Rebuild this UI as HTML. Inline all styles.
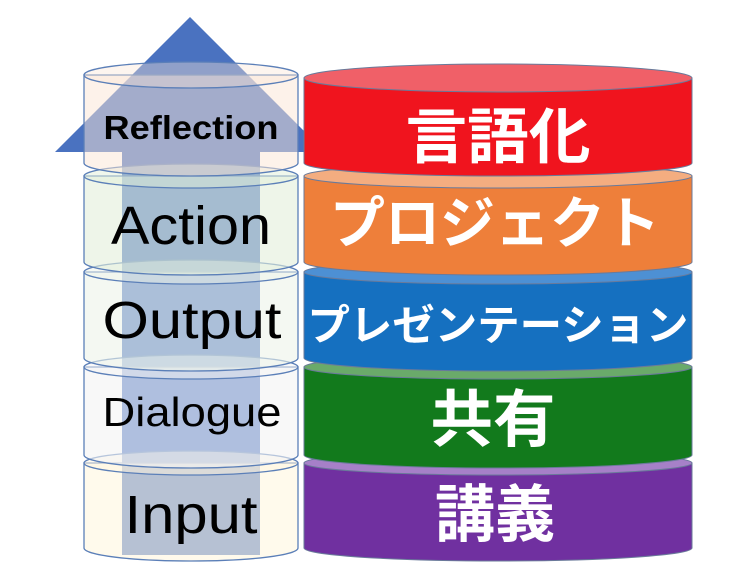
<!DOCTYPE html>
<html><head><meta charset="utf-8"><style>
html,body{margin:0;padding:0;background:#fff;width:736px;height:584px;overflow:hidden}
svg{display:block}
.l{font-family:"Liberation Sans",sans-serif;fill:#000;text-anchor:middle}
.j{font-family:"Liberation Sans","Noto Sans CJK JP",sans-serif;fill:#fff;text-anchor:middle;font-weight:bold}
</style></head><body>
<svg width="736" height="584" viewBox="0 0 736 584">
<polygon points="190,17 325,152 260,152 260,555 122,555 122,152 55,152" fill="#4a72c0"/>
<g stroke="#5b7fb8" stroke-width="1.3">
<path d="M84,463 L84,548 A107,13 0 0 0 298,548 L298,463 Z" fill="#fff6e0" fill-opacity="0.6"/>
<ellipse cx="191" cy="463" rx="107" ry="12" fill="#fff6e0" fill-opacity="0.5"/>
<path d="M84,367 L84,455 A107,13 0 0 0 298,455 L298,367 Z" fill="#f4f4f4" fill-opacity="0.6"/>
<ellipse cx="191" cy="367" rx="107" ry="12" fill="#f4f4f4" fill-opacity="0.5"/>
<path d="M84,272 L84,358 A107,13 0 0 0 298,358 L298,272 Z" fill="#edf3ea" fill-opacity="0.6"/>
<ellipse cx="191" cy="272" rx="107" ry="12" fill="#edf3ea" fill-opacity="0.5"/>
<path d="M84,176 L84,262 A107,13 0 0 0 298,262 L298,176 Z" fill="#e2efda" fill-opacity="0.6"/>
<ellipse cx="191" cy="176" rx="107" ry="12" fill="#e2efda" fill-opacity="0.5"/>
<path d="M84,75 L84,163 A107,13 0 0 0 298,163 L298,75 Z" fill="#fbe5d6" fill-opacity="0.5"/>
<ellipse cx="191" cy="75" rx="107" ry="13" fill="#fbe5d6" fill-opacity="0.4"/>
</g>
<text class="l" x="191" y="139" font-size="33" font-weight="bold" textLength="175" lengthAdjust="spacingAndGlyphs">Reflection</text>
<text class="l" x="191" y="244" font-size="54" textLength="160" lengthAdjust="spacingAndGlyphs">Action</text>
<text class="l" x="192" y="338" font-size="52" textLength="179" lengthAdjust="spacingAndGlyphs">Output</text>
<text class="l" x="192" y="426" font-size="41" textLength="179" lengthAdjust="spacingAndGlyphs">Dialogue</text>
<text class="l" x="191" y="533" font-size="54" textLength="133" lengthAdjust="spacingAndGlyphs">Input</text>
<g stroke="#6a7a9a" stroke-width="1">
<path d="M304,463 L304,548 A194,13 0 0 0 692,548 L692,463 Z" fill="#7030a0"/>
<ellipse cx="498" cy="463" rx="194" ry="12" fill="#a680c8"/>
<path d="M304,367 L304,455 A194,13 0 0 0 692,455 L692,367 Z" fill="#127a1c"/>
<ellipse cx="498" cy="367" rx="194" ry="12" fill="#6aaa6a"/>
<path d="M304,272 L304,358 A194,13 0 0 0 692,358 L692,272 Z" fill="#1570c0"/>
<ellipse cx="498" cy="272" rx="194" ry="12" fill="#4d90d4"/>
<path d="M304,176 L304,262 A194,13 0 0 0 692,262 L692,176 Z" fill="#ee7f3a"/>
<ellipse cx="498" cy="176" rx="194" ry="12" fill="#f4ad80"/>
<path d="M304,78 L304,163 A194,13 0 0 0 692,163 L692,78 Z" fill="#f0141e"/>
<ellipse cx="498" cy="78" rx="194" ry="14" fill="#f06068"/>
</g>
<text class="j" x="498" y="158" font-size="60" textLength="185" lengthAdjust="spacingAndGlyphs">言語化</text>
<text class="j" x="495" y="243" font-size="56" textLength="330" lengthAdjust="spacingAndGlyphs">プロジェクト</text>
<text class="j" x="498" y="340" font-size="42" font-weight="normal" textLength="381" lengthAdjust="spacingAndGlyphs">プレゼンテーション</text>
<text class="j" x="493" y="441" font-size="62" font-weight="normal" textLength="125" lengthAdjust="spacingAndGlyphs">共有</text>
<text class="j" x="495" y="536" font-size="62" font-weight="normal" textLength="120" lengthAdjust="spacingAndGlyphs">講義</text>
</svg>
</body></html>
